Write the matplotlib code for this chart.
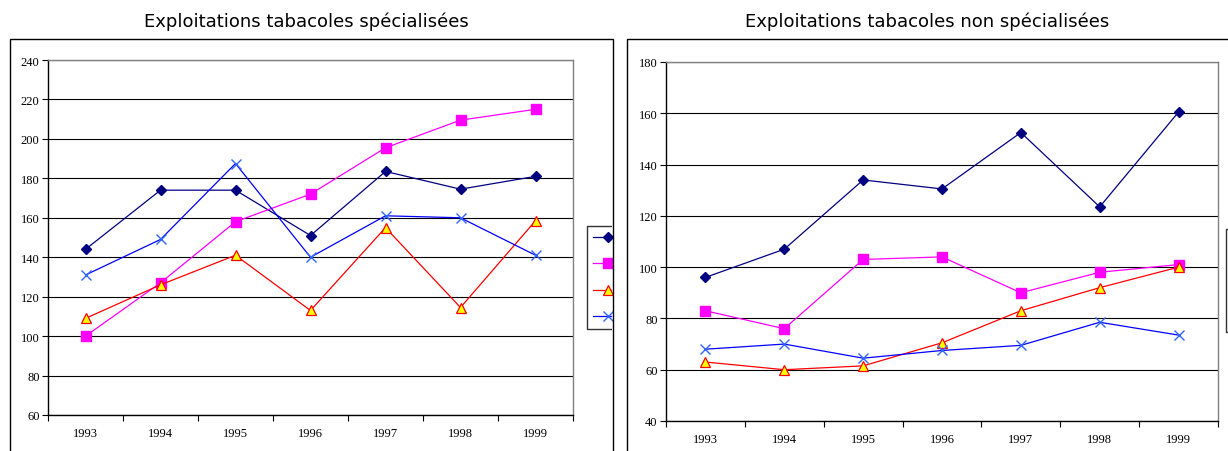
import matplotlib
matplotlib.use("Agg")
import matplotlib.pyplot as plt
from matplotlib.lines import Line2D
from matplotlib.patches import Rectangle
from matplotlib.transforms import Bbox
import numpy as np

years = ["1993", "1994", "1995", "1996", "1997", "1998", "1999"]

# Exploitations tabacoles spécialisées
spec_s1 = [144, 174, 174, 151, 183.5, 174.5, 181]
spec_s2 = [100, 127, 158, 172, 195.5, 209.5, 215]
spec_s3 = [109, 126, 141, 113, 155, 114.5, 158.5]
spec_s4 = [131, 149, 187.5, 140, 161, 160, 141]

# Exploitations tabacoles non spécialisées
nspec_s1 = [96, 107, 134, 130.5, 152.5, 123.5, 160.5]
nspec_s2 = [83, 76, 103, 104, 90, 98, 101]
nspec_s3 = [63, 60, 61.5, 70.5, 83, 92, 100]
nspec_s4 = [68, 70, 64.5, 67.5, 69.5, 78.5, 73.5]

# legend labels are cut off in the reference: only the keys are visible
series_labels = ["", "", "", ""]

W, H = 1228, 452
fig = plt.figure(figsize=(W / 100, H / 100), dpi=100)

def fx(px):
    return px / W

def fy(py):
    return 1 - py / H

styles = [
    dict(color="#000080", marker="D", markersize=5.5, mfc="#000080", mec="#000080", lw=0.9),
    dict(color="#FF00FF", marker="s", markersize=7, mfc="#FF00FF", mec="#FF00FF", lw=0.9),
    dict(color="#FF0000", marker="^", markersize=7.5, mfc="#FFFF00", mec="#FF0000", lw=0.9, mew=0.9),
    dict(color="#0000FF", marker="x", markersize=7, mfc="#3366FF", mec="#3366FF", lw=0.9, mew=1.0),
]

serif = ["Liberation Serif", "DejaVu Serif"]

def make_panel(box, plot, title, title_x, data, ylim, yticks, legend_box):
    bx0, by0, bx1 = box
    fig.add_artist(Rectangle((fx(bx0), -0.05), fx(bx1) - fx(bx0), fy(by0) + 0.05,
                             transform=fig.transFigure, fill=False,
                             edgecolor="black", lw=1.0))
    fig.text(fx(title_x), fy(22), title, ha="center", va="center",
             fontsize=13, family="DejaVu Sans")
    x0, y0, x1, y1 = plot
    ax = fig.add_axes([fx(x0), fy(y1), fx(x1) - fx(x0), fy(y0) - fy(y1)])
    xs = np.arange(len(years))
    for vals, st in zip(data, styles):
        ax.plot(xs, vals, **st)
    ax.set_xlim(-0.5, len(years) - 0.5)
    ax.set_ylim(*ylim)
    ax.set_yticks(yticks)
    ax.set_xticks(xs)
    ax.set_xticklabels(years)
    ax.set_xticks(np.arange(-0.5, len(years)), minor=True)
    ax.tick_params(axis="x", which="major", length=0, pad=9, labelsize=9)
    ax.tick_params(axis="x", which="minor", length=4, direction="out", width=0.8)
    ax.tick_params(axis="y", length=4, direction="out", width=0.8, labelsize=9, pad=2)
    for lab in ax.get_xticklabels() + ax.get_yticklabels():
        lab.set_family(serif)
    ax.grid(axis="y", color="black", lw=0.8)
    ax.set_axisbelow(True)
    for s in ("left", "bottom"):
        ax.spines[s].set_color("black")
        ax.spines[s].set_linewidth(1.0)
    for s in ("top", "right"):
        ax.spines[s].set_color("#808080")
        ax.spines[s].set_linewidth(1.0)

    handles = [Line2D([], [], **st) for st in styles]
    lx, ly_top, clip_right = legend_box
    leg = ax.legend(handles, series_labels, loc="upper left",
                    bbox_to_anchor=(fx(lx), fy(ly_top)),
                    bbox_transform=fig.transFigure,
                    frameon=True, fancybox=False, edgecolor="black",
                    fontsize=9, handlelength=2.4, labelspacing=1.05,
                    borderaxespad=0, borderpad=0.45, handletextpad=1.5)
    leg.get_frame().set_linewidth(1.0)
    clip = Bbox.from_extents(0, 0, clip_right, H)
    for art in leg.findobj():
        try:
            art.set_clip_box(clip)
            art.set_clip_on(True)
        except Exception:
            pass
    return ax

make_panel((10, 40, 613), (48, 61, 573, 416), "Exploitations tabacoles spécialisées", 306,
           [spec_s1, spec_s2, spec_s3, spec_s4], (60, 240), np.arange(60, 241, 20),
           (587, 227, 612))
make_panel((627, 40, 1240), (666, 63, 1218, 422), "Exploitations tabacoles non spécialisées", 927,
           [nspec_s1, nspec_s2, nspec_s3, nspec_s4], (40, 180), np.arange(40, 181, 20),
           (1226, 230, 1240))

fig.savefig("out.png", dpi=100)
